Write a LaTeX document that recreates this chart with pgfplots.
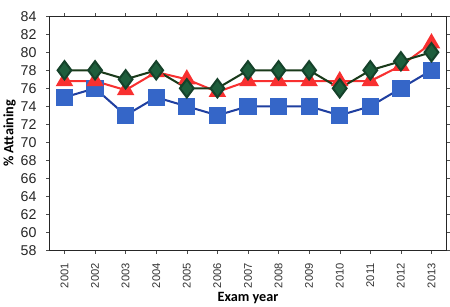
\documentclass[border=0pt]{standalone}
\usepackage{pgfplots}
\pgfplotsset{compat=1.18}
\usepackage{fontspec}
\setmainfont{Liberation Sans}
\newfontfamily\labfont{Carlito}
\definecolor{bsq}{HTML}{3566C8}
\definecolor{bln}{HTML}{1F3FA0}
\definecolor{gdi}{HTML}{1E5E3C}
\definecolor{gln}{HTML}{1A3A1A}
\definecolor{rtr}{HTML}{F83030}
\begin{document}
\begin{tikzpicture}
\begin{axis}[
  name=ax,
  scale only axis, width=392pt, height=231pt,
  xmin=-0.5, xmax=12.5, ymin=58, ymax=84,
  xtick={0,...,12},
  xticklabels={2001,2002,2003,2004,2005,2006,2007,2008,2009,2010,2011,2012,2013},
  xticklabel style={rotate=90, anchor=east, font=\fontsize{11}{12}\selectfont, text=black!80},
  xticklabel shift=6pt,
  ytick={58,60,...,84},
  yticklabel style={font=\fontsize{14}{15}\selectfont, text=black!85},
  yticklabel shift=6pt,
  /pgf/number format/assume math mode=true,
  tick align=outside, tick style={black!70, thin},
  major tick length=3pt,
  axis line style={line width=1pt, black!85},
  xlabel={\labfont\bfseries Exam year}, ylabel={\labfont\bfseries \% Attaining},
  xlabel style={font=\fontsize{14}{15}\selectfont, yshift=3pt},
  ylabel style={font=\fontsize{14}{15}\selectfont, yshift=-2pt},
  clip=false,
]
\addplot[bln, line width=2pt, mark=square*, mark size=7.5pt, mark options={fill=bsq, draw=bsq, solid}] coordinates {
(0,75)(1,76)(2,73)(3,75)(4,74)(5,73)(6,74)(7,74)(8,74)(9,73)(10,74)(11,76)(12,78)};
\addplot[rtr, line width=2pt, mark=triangle*, mark size=8pt, mark options={fill=rtr, draw=rtr, solid}] coordinates {
(0,76.8)(1,76.8)(2,75.8)(3,77.8)(4,77)(5,75.6)(6,76.8)(7,76.8)(8,76.8)(9,76.8)(10,76.8)(11,78.5)(12,81)};
\addplot[gln, line width=2pt, mark=diamond*, mark size=9pt, mark options={fill=gdi, draw=gdi!70!black, solid}] coordinates {
(0,78)(1,78)(2,77)(3,78)(4,76)(5,76)(6,78)(7,78)(8,78)(9,76)(10,78)(11,79)(12,80)};
\end{axis}
\path ([yshift=16pt]ax.north);
\end{tikzpicture}
\end{document}
